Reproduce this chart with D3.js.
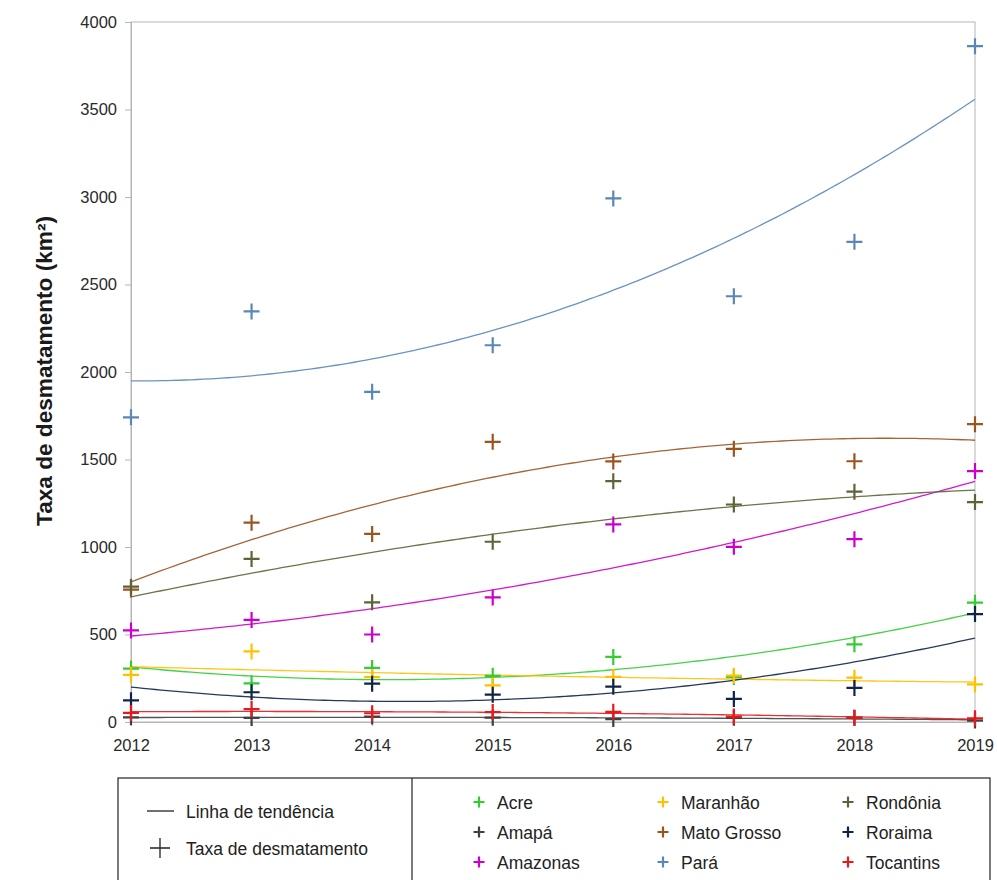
<!DOCTYPE html>
<html><head><meta charset="utf-8">
<script src="https://cdn.jsdelivr.net/npm/d3@7"></script>
<style>body{margin:0;background:#fff}svg{display:block}</style>
</head><body>
<svg id="chart" width="997" height="880"></svg>
<script>
const years = [2012, 2013, 2014, 2015, 2016, 2017, 2018, 2019];
const yTicks = [0, 500, 1000, 1500, 2000, 2500, 3000, 3500, 4000];
const states = ["Acre", "Amapá", "Amazonas", "Maranhão", "Mato Grosso", "Pará", "Rondônia", "Roraima", "Tocantins"];
const acre = [305, 221, 309, 264, 372, 257, 444, 682];
const amapa = [27, 23, 31, 25, 17, 24, 24, 8];
const amazonas = [523, 583, 500, 712, 1129, 1001, 1045, 1434];
const maranhao = [269, 403, 257, 209, 258, 265, 253, 215];
const matoGrosso = [757, 1139, 1075, 1601, 1489, 1561, 1490, 1702];
const para = [1741, 2346, 1887, 2153, 2992, 2433, 2744, 3862];
const rondonia = [773, 932, 684, 1030, 1376, 1243, 1316, 1257];
const roraima = [124, 170, 219, 156, 202, 132, 195, 617];
const tocantins = [52, 74, 50, 57, 58, 31, 25, 21];
const colors = ["#33cc33", "#404040", "#cc00cc", "#ffc000", "#9a5420", "#5b87b8", "#5f6436", "#0f2448", "#e8191c"];

const seriesValues = [acre, amapa, amazonas, maranhao, matoGrosso, para, rondonia, roraima, tocantins];
const series = states.map((s, i) => ({name: s, values: seriesValues[i], color: colors[i]}));

const svg = d3.select("#chart");
const mL = 131, mR = 975, mT = 22, mB = 722;
const x = d3.scaleLinear().domain([2012, 2019]).range([mL, mR]);
const y = d3.scaleLinear().domain([0, 4000]).range([mB, mT]);

// frame
svg.append("rect").attr("x", mL).attr("y", mT).attr("width", mR - mL).attr("height", mB - mT)
  .attr("fill", "none").attr("stroke", "#b5b5b5").attr("stroke-width", 1);

// axes
const font = "'Liberation Sans', Arial, sans-serif";
const yAxis = svg.append("g").attr("transform", `translate(${mL},0)`)
  .call(d3.axisLeft(y).tickValues(yTicks).tickFormat(d3.format("d")).tickSize(6).tickPadding(8));
const xAxis = svg.append("g").attr("transform", `translate(0,${mB})`)
  .call(d3.axisBottom(x).tickValues(years).tickFormat(d3.format("d")).tickSize(4).tickPadding(13));
[yAxis, xAxis].forEach(g => {
  g.select(".domain").attr("stroke", "#b5b5b5");
  g.selectAll(".tick line").attr("stroke", "#b5b5b5");
  g.selectAll(".tick text").attr("font-family", font).attr("font-size", 16.5).attr("fill", "#2a2a2a");
});

// y label
svg.append("text").attr("transform", "translate(52,371) rotate(-90)")
  .attr("text-anchor", "middle").attr("font-family", font)
  .attr("font-weight", "bold").attr("font-size", 21.5).attr("fill", "#1a1a1a")
  .attr("textLength", 310).attr("lengthAdjust", "spacingAndGlyphs")
  .text("Taxa de desmatamento (km²)");

// quadratic least squares fit (trend lines)
function quadFit(xs, ys) {
  const n = xs.length, mx = d3.mean(xs);
  const t = xs.map(v => v - mx);
  const S2 = d3.sum(t, v => v * v), S4 = d3.sum(t, v => v ** 4), S3 = d3.sum(t, v => v ** 3);
  const Sy = d3.sum(ys), Sty = d3.sum(t, (v, i) => v * ys[i]), St2y = d3.sum(t, (v, i) => v * v * ys[i]);
  const A = [[n, 0, S2, Sy], [0, S2, S3, Sty], [S2, S3, S4, St2y]];
  for (let i = 0; i < 3; i++) {
    for (let k = i + 1; k < 3; k++) {
      const f = A[k][i] / A[i][i];
      for (let j = i; j < 4; j++) A[k][j] -= f * A[i][j];
    }
  }
  const c = A[2][3] / A[2][2];
  const b = (A[1][3] - A[1][2] * c) / A[1][1];
  const a = (A[0][3] - A[0][1] * b - A[0][2] * c) / A[0][0];
  return xv => { const tv = xv - mx; return a + b * tv + c * tv * tv; };
}

const plot = svg.append("g");
const line = d3.line().x(d => x(d[0])).y(d => y(d[1])).curve(d3.curveLinear);
const samples = d3.range(2012, 2019.0001, 0.05);
series.forEach(s => {
  const f = quadFit(years, s.values);
  plot.append("path").datum(samples.map(v => [v, f(v)])).attr("d", line)
    .attr("fill", "none").attr("stroke", s.color).attr("stroke-width", 1.3).attr("opacity", 0.9);
});
const cross = "M-8,0H8M0,-8V8";
series.forEach(s => {
  plot.selectAll(null).data(s.values).enter().append("path")
    .attr("d", cross).attr("transform", (d, i) => `translate(${x(years[i])},${y(d)})`)
    .attr("stroke", s.color).attr("stroke-width", 2.2).attr("fill", "none");
});

// legend
const lg = svg.append("g");
const legFont = font;
const legSize = 17.5;
lg.append("rect").attr("x", 118).attr("y", 778).attr("width", 872).attr("height", 130)
  .attr("fill", "#fff").attr("stroke", "#333").attr("stroke-width", 1.3);
lg.append("line").attr("x1", 412).attr("x2", 412).attr("y1", 778).attr("y2", 880).attr("stroke", "#333").attr("stroke-width", 1.3);
lg.append("line").attr("x1", 147).attr("x2", 174).attr("y1", 811).attr("y2", 811).attr("stroke", "#222").attr("stroke-width", 1.3);
lg.append("text").attr("x", 186).attr("y", 818).attr("font-family", legFont).attr("font-size", legSize).attr("fill", "#222").text("Linha de tendência");
lg.append("path").attr("d", "M-10,0H10M0,-10V10").attr("transform", "translate(160,848)").attr("stroke", "#222").attr("stroke-width", 1.3);
lg.append("text").attr("x", 186).attr("y", 855).attr("font-family", legFont).attr("font-size", legSize).attr("fill", "#222").text("Taxa de desmatamento");

const colX = [479, 663, 848], rowY = [802, 832, 862];
series.forEach((s, i) => {
  const cx = colX[Math.floor(i / 3)], cy = rowY[i % 3];
  lg.append("path").attr("d", "M-5.5,0H5.5M0,-5.5V5.5").attr("transform", `translate(${cx},${cy})`)
    .attr("stroke", s.color).attr("stroke-width", 2.2);
  lg.append("text").attr("x", cx + 18).attr("y", cy + 6.5).attr("font-family", legFont).attr("font-size", legSize)
    .attr("fill", "#222").text(s.name);
});
</script>
</body></html>
